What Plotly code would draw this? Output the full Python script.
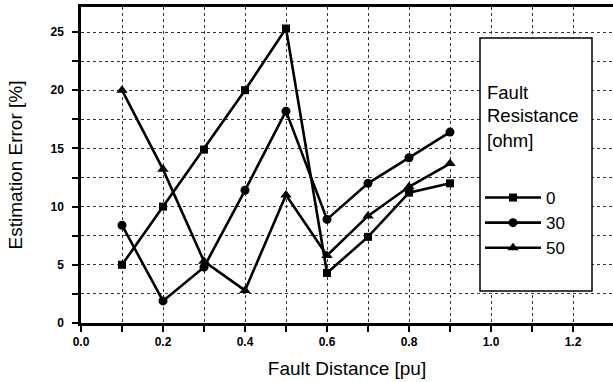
import plotly.graph_objects as go

fault_distance = [0.1, 0.2, 0.3, 0.4, 0.5, 0.6, 0.7, 0.8, 0.9]
err_r0 = [5.0, 10.0, 14.9, 20.0, 25.3, 4.3, 7.4, 11.2, 12.0]
err_r30 = [8.4, 1.9, 4.8, 11.4, 18.2, 8.9, 12.0, 14.2, 16.4]
err_r50 = [20.0, 13.2, 5.3, 2.8, 11.0, 5.8, 9.2, 11.7, 13.7]
series_names = ["0", "30", "50"]
series_symbols = ["square", "circle", "triangle-up"]
legend_title_lines = ["Fault", "Resistance", "[ohm]"]
x_ticks = [0.0, 0.2, 0.4, 0.6, 0.8, 1.0, 1.2]
y_ticks = [0, 5, 10, 15, 20, 25]

W, H = 613, 382
# plot area in page pixels
L, R, T, B = 81, 613, 7, 323
FONT = "Liberation Sans, Arial, sans-serif"
PX_PER_UNIT_Y = 11.64
PX_PER_UNIT_X = 410.0

def px(x):
    return (x - L) / (R - L)

def py(y):
    return (B - y) / (B - T)

fig = go.Figure()
sizes = [8, 9, 10]
for name, ys, sym, sz in zip(series_names, [err_r0, err_r30, err_r50], series_symbols, sizes):
    fig.add_trace(go.Scatter(
        x=fault_distance, y=ys, name=name, mode="lines+markers",
        line=dict(color="black", width=2.6),
        marker=dict(symbol=sym, size=sz, color="black"),
    ))

axis_common = dict(
    showline=True, linecolor="black", linewidth=2.5,
    showgrid=True, gridcolor="#333", gridwidth=1, griddash="dot",
    ticks="outside", ticklen=6, tickwidth=2, tickcolor="black",
    zeroline=False, automargin=False,
    tickfont=dict(family=FONT, size=12, color="black", weight="bold"),
    title_font=dict(family=FONT, size=19, color="black"),
)

fig.update_xaxes(
    **axis_common,
    range=[0, (R - L) / PX_PER_UNIT_X], tickvals=x_ticks, ticktext=[f"{v:.1f}" for v in x_ticks],
    minor=dict(dtick=0.1, tick0=0, ticks="outside", ticklen=6, tickwidth=2, tickcolor="black",
               showgrid=True, gridcolor="#333", gridwidth=1, griddash="dot"),
    mirror=True,
    title_text="Fault Distance [pu]", title_standoff=14,
)
fig.update_yaxes(
    **axis_common,
    range=[0, (B - T) / PX_PER_UNIT_Y], tickvals=y_ticks, ticktext=[str(v) for v in y_ticks],
    minor=dict(dtick=2.5, tick0=0, ticks="outside", ticklen=6, tickwidth=2, tickcolor="black",
               showgrid=True, gridcolor="#333", gridwidth=1, griddash="dot"),
    mirror=False, ticklabelstandoff=6,
    title_text="Estimation Error [%]", title_standoff=23,
)

fig.add_shape(type="rect", xref="paper", yref="paper",
              x0=px(480), x1=px(592), y0=py(291), y1=py(38),
              fillcolor="white", line=dict(color="black", width=1.5), layer="above")

for line_text, ypix in zip(legend_title_lines, [92, 116, 140]):
    fig.add_annotation(text=line_text, xref="paper", yref="paper",
                       x=px(485), y=py(ypix), xanchor="left", yanchor="middle",
                       showarrow=False, font=dict(family=FONT, size=18.5, color="black"))

fig.update_layout(
    width=W, height=H,
    margin=dict(l=L, r=W - R, t=T, b=H - B, autoexpand=False),
    paper_bgcolor="white", plot_bgcolor="white",
    showlegend=True,
    legend=dict(x=px(480), y=py(180), xanchor="left", yanchor="top",
                bgcolor="rgba(0,0,0,0)", borderwidth=0, itemwidth=56,
                font=dict(family=FONT, size=17, color="black"),
                tracegroupgap=0),
)

fig.write_html(
    "out.html",
    config={"displayModeBar": False},
    post_script="document.body.style.margin='0';document.body.style.overflow='hidden';",
)
